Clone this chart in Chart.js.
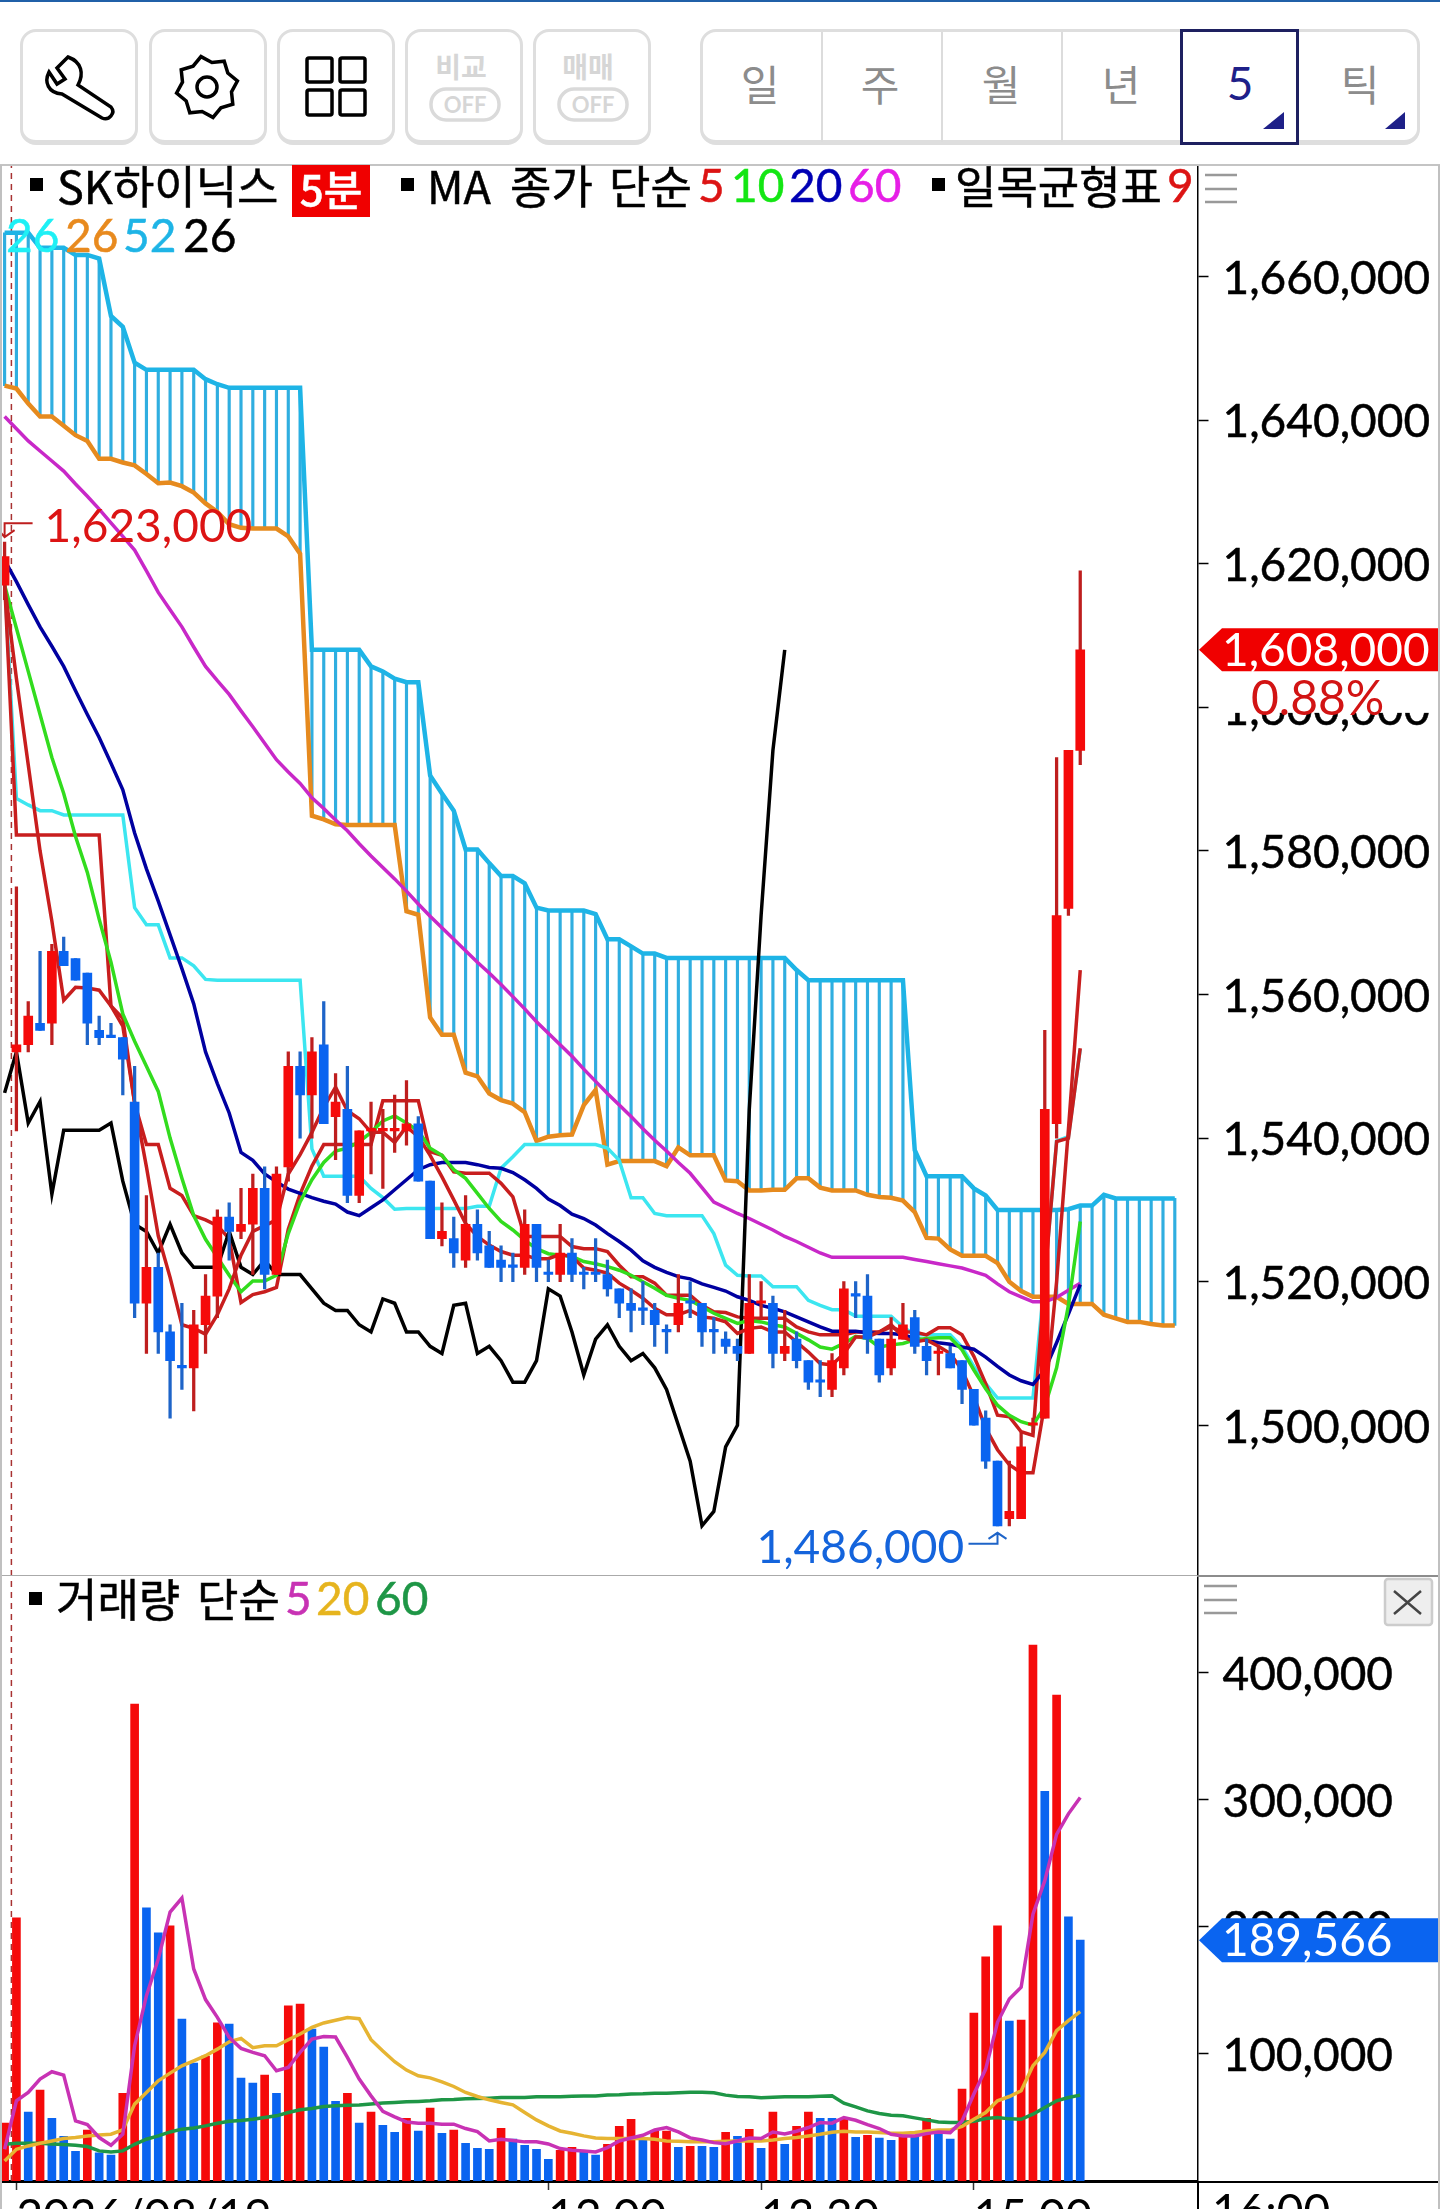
<!DOCTYPE html>
<html lang="ko"><head><meta charset="utf-8">
<style>
html,body{margin:0;padding:0;background:#fff;width:1440px;height:2209px;overflow:hidden}
#page{position:relative;width:1440px;height:2209px;overflow:hidden;background:#fff;font-family:"Noto Sans CJK KR","Noto Sans",sans-serif}
canvas{position:absolute;left:0}
.t{position:absolute;white-space:nowrap;line-height:50px;height:50px;font-size:45px;color:#000;-webkit-text-stroke:.5px currentColor}
.l{font-family:Lato,sans-serif;font-size:46px}
.sq{position:absolute;width:13px;height:13px;background:#000}
.box{position:absolute;box-sizing:border-box;border:3px solid #DEDEDE;border-bottom-width:5px;border-radius:16px;background:#fff}
.hl{position:absolute;height:2px}
.seg{position:absolute;top:53px;height:60px;line-height:60px;font-size:42px;color:#8C8C8C;transform:translateX(-50%)}
</style></head><body><div id="page">
<div class="hl" style="left:0;top:0;width:1440px;height:2px;background:#2060A8"></div>
<div class="box" style="left:20px;top:29px;width:118px;height:116px"></div>
<div class="box" style="left:149px;top:29px;width:118px;height:116px"></div>
<div class="box" style="left:277px;top:29px;width:118px;height:116px"></div>
<div class="box" style="left:405px;top:29px;width:118px;height:116px"></div>
<div class="box" style="left:533px;top:29px;width:118px;height:116px"></div>
<div class="box" style="left:700px;top:29px;width:720px;height:116px"></div>
<div style="position:absolute;left:821px;top:32px;width:2px;height:110px;background:#DCDCDC"></div>
<div style="position:absolute;left:941px;top:32px;width:2px;height:110px;background:#DCDCDC"></div>
<div style="position:absolute;left:1061px;top:32px;width:2px;height:110px;background:#DCDCDC"></div>
<div style="position:absolute;left:1180px;top:29px;width:119px;height:116px;box-sizing:border-box;border:3px solid #1E2060;background:#fff"></div>
<svg id="icons" width="1440" height="165" style="position:absolute;left:0;top:0" fill="none" stroke="#000" stroke-width="3.5">
<path d="M68 57 L57 68 L65 79 L57 84 L49 72 C44 82 48 93 62 94 L102 118 C109 121 116 113 111 107 L78 85 C84 74 82 62 68 57Z"/>
<polygon id="gear" points=""/><circle cx="207" cy="87" r="10"/>
<rect x="307" y="58" width="25" height="24" rx="2"/><rect x="340" y="58" width="25" height="24" rx="2"/>
<rect x="307" y="90" width="25" height="25" rx="2"/><rect x="340" y="90" width="25" height="25" rx="2"/>
<rect x="431" y="89" width="68" height="31" rx="15" stroke="#DADADA"/><rect x="559" y="89" width="68" height="31" rx="15" stroke="#DADADA"/>
<polygon points="1284,112 1284,129 1263,129" fill="#1E2088" stroke="none"/><polygon points="1405,112 1405,129 1385,129" fill="#1E2088" stroke="none"/>
</svg>
<div style="position:absolute;left:431px;top:48px;width:60px;text-align:center;font-size:28px;line-height:36px;color:#D6D6D6;font-weight:700">비교</div>
<div style="position:absolute;left:435px;top:90px;width:60px;text-align:center;font-size:22px;line-height:30px;color:#D6D6D6;font-family:Lato;font-weight:700">OFF</div>
<div style="position:absolute;left:558px;top:48px;width:60px;text-align:center;font-size:28px;line-height:36px;color:#D6D6D6;font-weight:700">매매</div>
<div style="position:absolute;left:563px;top:90px;width:60px;text-align:center;font-size:22px;line-height:30px;color:#D6D6D6;font-family:Lato;font-weight:700">OFF</div>
<div class="seg" style="left:760px">일</div><div class="seg" style="left:880px">주</div><div class="seg" style="left:1001px">월</div><div class="seg" style="left:1121px">년</div>
<div class="seg" style="left:1240px;color:#1E2088;font-family:Lato;font-size:46px">5</div><div class="seg" style="left:1360px">틱</div>

<canvas id="priceCanvas" width="1440" height="1411" style="top:165px"></canvas>
<canvas id="volumeCanvas" width="1440" height="680" style="top:1576px"></canvas>

<div class="hl" style="left:0;top:164px;width:1440px;background:#C4C4C4"></div>
<div class="hl" style="left:0;top:1575px;width:1197px;height:1px;background:#AAA"></div>
<div class="hl" style="left:1197px;top:1575px;width:243px;background:#8C8C8C"></div>
<div class="hl" style="left:0;top:2181px;width:1438px;height:1.5px;background:#000"></div>
<div style="position:absolute;left:1197px;top:2181px;width:1.5px;height:28px;background:#000"></div>
<div style="position:absolute;left:0;top:165px;width:2px;height:2044px;background:#C0C0C0"></div>
<div style="position:absolute;left:1438px;top:165px;width:2px;height:2044px;background:#C0C0C0"></div>

<div class="sq" style="left:30px;top:178px"></div>
<div class="t" style="left:57px;top:160px">SK하이닉스</div>
<div style="position:absolute;left:292px;top:165px;width:78px;height:52px;background:#F00000;color:#fff;font-size:42px;line-height:46px;text-align:center;font-weight:500;-webkit-text-stroke:.5px #fff">5분</div>
<div class="sq" style="left:401px;top:178px"></div>
<div class="t" style="left:427px;top:160px">MA</div><div class="t" style="left:510px;top:160px">종가</div><div class="t" style="left:609px;top:160px">단순</div>
<div class="t l" style="left:698px;top:160px;color:#DC1414">5</div><div class="t l" style="left:731px;top:160px;color:#14E614">10</div>
<div class="t l" style="left:789px;top:160px;color:#0000B4">20</div><div class="t l" style="left:848px;top:160px;color:#E61EE6">60</div>
<div class="sq" style="left:932px;top:178px"></div>
<div class="t" style="left:955px;top:160px">일목균형표</div><div class="t l" style="left:1167px;top:160px;color:#DC1414">9</div>
<div class="t l" style="left:6px;top:210px;color:#1EF0F5">26</div><div class="t l" style="left:65px;top:210px;color:#E88A1E">26</div>
<div class="t l" style="left:123px;top:210px;color:#1EB4E6">52</div><div class="t l" style="left:183px;top:210px;color:#000">26</div>
<svg width="1440" height="1640" style="position:absolute;left:0;top:0" stroke="#999" stroke-width="2.5">
<path d="M1205 175H1237M1205 189H1237M1205 202H1237"/><path d="M1204 1586H1237M1204 1600H1237M1204 1613H1237"/>
<rect x="1385" y="1579" width="47" height="46" rx="3" fill="#EEE" stroke="#CCC"/><path d="M1394 1591L1421 1614M1421 1591L1394 1614" stroke="#444"/>
</svg>
<div class="sq" style="left:29px;top:1592px"></div>
<div class="t" style="left:56px;top:1573px">거래량</div><div class="t" style="left:197px;top:1573px">단순</div>
<div class="t l" style="left:285px;top:1573px;color:#C832B4">5</div><div class="t l" style="left:316px;top:1573px;color:#E6B41E">20</div><div class="t l" style="left:375px;top:1573px;color:#1E9646">60</div>
<div style="position:absolute;left:1212px;top:2172px;font-family:Lato;font-size:46px;line-height:76px;height:76px;white-space:nowrap">16:00</div>
</div>
<script src="https://cdn.jsdelivr.net/npm/chart.js@4/dist/chart.umd.js"></script>
<script>
const priceTicks=[1500,1520,1540,1560,1580,1600,1620,1640,1660];
const volumeTicks=[100,200,300,400];
const dateTickAt=[1,46,64,82];
const dateTickLabels=["2026/08/19","12:00","13:30","15:00"];

const candleOpen=[1617,1552,1553,1556,1556,1566,1565,1563,1555,1554,1554,1545,1517,1522,1513,1508,1508,1514,1518,1529,1527,1528,1533,1521,1536,1550,1546,1553,1543,1544,1532,1541,1541,1541,1541,1542,1534,1526,1526,1523,1528,1525,1523,1522,1522,1528,1521,1521,1524,1521,1521,1521,1519,1517,1516,1516,1513,1514,1517,1517,1513,1512,1511,1510,1517,1517,1510,1512,1509,1506,1505,1508,1518,1518,1512,1508,1512,1515,1511,1510,1510,1509,1505,1501,1495,1487,1487,1500,1501,1542,1572,1594];
const candleClose=[1621,1553,1557,1555,1566,1564,1562,1556,1554,1554,1551,1517,1522,1513,1509,1508,1514,1518,1529,1527,1528,1533,1521,1535,1550,1546,1552,1542,1545,1532,1541,1541,1541,1541,1542,1534,1526,1527,1524,1528,1524,1522,1522,1522,1528,1522,1521,1524,1521,1521,1521,1519,1517,1516,1516,1514,1513,1517,1517,1513,1513,1511,1510,1517,1517,1510,1511,1509,1506,1506,1509,1519,1518,1512,1507,1512,1514,1511,1509,1510,1508,1505,1500,1495,1486,1488,1497,1500,1544,1571,1594,1608];
const candleHigh=[1623,1575,1559,1566,1567,1568,1565,1563,1557,1556,1554,1550,1532,1524,1514,1517,1516,1521,1530,1531,1533,1535,1536,1536,1552,1552,1554,1559,1549,1550,1541,1545,1544,1546,1548,1543,1534,1531,1529,1532,1530,1527,1525,1524,1530,1528,1523,1528,1526,1522,1526,1523,1519,1519,1520,1517,1514,1521,1520,1517,1515,1513,1512,1521,1520,1518,1516,1513,1509,1509,1510,1520,1520,1521,1512,1515,1517,1516,1512,1511,1511,1509,1505,1502,1495,1495,1499,1501,1555,1593,1594,1619];
const candleLow=[1615,1541,1552,1555,1553,1564,1562,1553,1553,1554,1546,1515,1510,1510,1501,1505,1502,1510,1515,1523,1526,1521,1519,1521,1534,1540,1540,1542,1537,1531,1531,1535,1533,1538,1539,1534,1526,1525,1522,1522,1523,1522,1520,1520,1521,1520,1520,1520,1520,1519,1520,1518,1515,1513,1514,1511,1510,1513,1515,1511,1510,1510,1509,1510,1515,1508,1509,1508,1505,1504,1504,1507,1515,1510,1506,1507,1512,1510,1507,1507,1508,1503,1500,1494,1486,1486,1487,1499,1501,1540,1571,1592];
const candleSide=["RRRBRBBBBB","BBRBBBRRRB","RRBRRBRBRB","RRRRRBBRBR","BBBBRBBRBB","BBBBBBBRBB","BBBRRBRBBB","RRBBBRRBBR","BBBBBRRRRR","RR"].join("");

const ma5=[1617,1604,1592,1580,1570.2,1559.2,1561,1560.9,1560.6,1558.4,1555.6,1544.9,1536,1526.4,1520.6,1514,1513.5,1512.7,1515.4,1519,1523.7,1527,1527.8,1528.6,1535,1537.7,1540.8,1544.3,1547.1,1543.8,1542.7,1540.8,1540.8,1539.4,1541.6,1540.2,1537.6,1534.6,1531.4,1528.1,1526.3,1525.1,1524.2,1523.7,1523.7,1523.2,1523.2,1523.8,1523.5,1521.9,1521.6,1521.2,1519.8,1518.8,1517.7,1516.3,1515.4,1515.4,1516,1515.1,1514.9,1514.4,1512.8,1513.5,1513.7,1513,1513,1511.6,1510.2,1508.6,1508.4,1510,1512.3,1512.3,1513,1514,1512.3,1511.6,1511.9,1511,1510,1507.7,1504,1499.6,1496.6,1494.5,1493.4,1493.4,1503,1520,1541.2,1563.4];
const ma10=[1617,1611,1605,1599,1593,1588,1582,1577,1570.5,1564.5,1557.3,1553.5,1550,1546.5,1540,1534.4,1529.2,1525.9,1523.4,1520.9,1518.6,1520.1,1520.1,1520.9,1526.7,1531.1,1534.2,1536.6,1538.2,1538.6,1539.5,1540.8,1542.4,1543.1,1542.1,1541,1538.6,1537.6,1535.6,1534.4,1532.3,1530.2,1528.4,1527.2,1525.8,1524.6,1523.9,1523.7,1523.5,1522.8,1522.5,1522.1,1521.6,1520.9,1520,1519.1,1518.1,1517.7,1517.4,1516.5,1515.6,1514.9,1514.2,1514.6,1514.4,1514,1513.7,1512.8,1511.9,1510.9,1510.6,1511.4,1512.4,1512.1,1510.9,1511.2,1511.4,1511.9,1512.1,1512.2,1512.2,1510.5,1507.7,1505.1,1502.8,1501.4,1500.5,1500,1502.6,1508,1516.7,1528.4];
const ma20=[1620.5,1617.5,1614.3,1611.2,1608.5,1605.7,1602.3,1599,1595.8,1592.2,1588.5,1582.5,1577.5,1573,1568.3,1563.6,1558.7,1552,1547.6,1543.5,1538,1536.9,1535,1533.9,1532.9,1532.3,1531.7,1531.2,1530.8,1529.7,1529.2,1530.3,1531.4,1532.8,1534.2,1535.6,1536.3,1536.6,1536.6,1536.6,1536.3,1535.9,1535.8,1535.2,1534.2,1533,1531.5,1530.6,1529.4,1528.8,1527.9,1526.7,1525.6,1524.4,1522.9,1522,1521.3,1520.7,1520.4,1519.7,1519.2,1518.7,1517.9,1517.4,1516.7,1516.3,1515.8,1515.1,1514.4,1513.7,1513.1,1513.1,1513.1,1512.9,1512.8,1512.8,1512.6,1512.1,1511.8,1511.5,1511.3,1510.9,1510.6,1509.5,1508.2,1507,1506.2,1505.7,1507.7,1511.5,1515.5,1519.6];
const ma60=[1640.5,1638.8,1637.1,1635.7,1634.3,1632.9,1631.1,1629.4,1627.6,1625.7,1623.8,1621.9,1619,1616,1613.6,1611.2,1608.4,1605.7,1603.7,1601.8,1599.5,1597.3,1595,1592.7,1591,1589.4,1587.4,1585.9,1584.3,1582.8,1581,1579.3,1577.7,1576.1,1574.4,1572.6,1570.9,1569.3,1567.7,1566.1,1564.5,1563,1561.4,1559.7,1558,1556.2,1554.6,1553,1551.4,1549.6,1547.9,1546.2,1544.6,1543,1541.3,1539.7,1538.2,1536.6,1535.1,1533.1,1531.1,1530.3,1529.5,1528.8,1528,1527.2,1526.3,1525.6,1524.8,1524,1523.4,1523.4,1523.4,1523.4,1523.4,1523.4,1523.4,1523.1,1522.8,1522.5,1522.2,1521.9,1521.4,1520.9,1519.7,1518.6,1517.9,1517.2,1517.2,1517.8,1518.8,1519.8];
const ichimokuConversion=[1617.5,1582.2,1582.2,1582.2,1582.2,1582.2,1582.2,1582.2,1582.2,1558.4,1556.7,1544.9,1539.1,1539.1,1533,1532,1529.2,1528.6,1527.8,1526,1517.1,1518.2,1518.6,1519.2,1527.3,1532.2,1536.1,1539.1,1539.1,1539.1,1539.1,1539.1,1545.2,1545.2,1545.2,1545.2,1538.1,1537.6,1535.3,1535.1,1535.1,1535.1,1533.7,1531.8,1526.3,1526.3,1526.3,1526.3,1524.9,1524.6,1524.6,1524.2,1522.3,1520.7,1520.7,1519.8,1518.1,1518.1,1518.1,1516.7,1515.8,1515.7,1515.1,1514.9,1514.9,1514.9,1514.9,1513.7,1513,1512.6,1512.6,1512.6,1513,1513,1513,1513.7,1513,1513,1512.6,1513.6,1513.6,1512.6,1509.6,1505.8,1501.4,1501.2,1499.1,1498.6,1520.5,1539.5,1540,1552.5];
const ichimokuBase=[1617.5,1587.3,1586.4,1585.6,1585.6,1585,1585,1585,1585,1585,1585,1572.1,1569.7,1569.7,1565.1,1565.1,1564,1562.1,1562,1562,1562,1562,1562,1562,1562,1562,1538.5,1534.7,1534.7,1534.7,1534.7,1533,1531.7,1530.1,1530.2,1530.2,1530.2,1530.2,1530.2,1530.2,1530.5,1530.5,1535.8,1537.4,1539.1,1539.1,1539.1,1539.1,1539.1,1539.1,1539.1,1538.6,1536.9,1531.7,1531.7,1529.5,1529.2,1529.2,1529.2,1529.2,1526.7,1522.3,1520.9,1520.8,1520.8,1519.3,1519.3,1519.3,1517.4,1516.7,1516.1,1516.1,1515.2,1515.2,1515.2,1515.2,1513.7,1512.6,1512.6,1512.6,1512.6,1510.9,1508.2,1505.8,1503.8,1503.8,1503.8,1503.8,1520.5,1539.6,1540.2,1552.4];
const ichimokuLagging=[1546.3,1552,1542.1,1545.1,1532.2,1541.1,1541.1,1541.1,1541.1,1542.1,1534,1528,1527,1524,1528,1524,1522,1522,1522,1527,1522,1521,1523,1521,1521,1521,1519,1517,1516,1516,1514,1513,1517.6,1517,1513,1513,1511,1510,1516.7,1517,1510,1511,1509,1506,1506,1509,1519,1518,1513,1507,1512,1514,1511,1509,1510,1508,1505,1500,1495,1486,1488,1497,1500,1544,1571,1594,1608];
const ichimokuSpanUpper=[1666.1,1666.1,1666.1,1664,1664,1664,1663,1663,1662.5,1654.5,1653,1648,1647,1647,1647,1647,1647,1645.7,1645,1644.5,1644.5,1644.5,1644.5,1644.5,1644.5,1644.5,1608,1608,1608,1608,1608,1605.7,1605,1604,1603.5,1603.5,1590.5,1588,1585.6,1580.2,1580.2,1578.3,1576.5,1576.5,1575.5,1572.1,1571.7,1571.7,1571.7,1571.7,1571.2,1567.7,1567.7,1566.7,1565.7,1565.7,1565.1,1565.1,1565.1,1565.1,1565.1,1565.1,1565.1,1565.1,1565.1,1565.1,1565.1,1563.4,1562,1562,1562,1562,1562,1562,1562,1562,1562,1538.3,1534.7,1534.7,1534.7,1534.7,1533,1532,1530,1530,1530,1530,1530,1530,1530.1,1530.6,1530.6,1532.1,1531.6,1531.6,1531.6,1531.6,1531.6,1531.6];
const ichimokuSpanLower=[1644.8,1644.4,1642.3,1640.5,1640.5,1639.2,1637.9,1637.1,1634.6,1634.6,1634.1,1633.7,1632.5,1631.2,1631.3,1630.8,1629.9,1628.4,1627.2,1625.5,1625,1624.9,1624.9,1624.9,1623.8,1621.4,1584.9,1584.4,1583.7,1583.6,1583.6,1583.6,1583.6,1583.6,1571.6,1571.1,1556.8,1554.4,1554.4,1549.1,1548.6,1546.2,1545.3,1544.8,1543.6,1539.6,1540.2,1540.4,1540.5,1544.6,1546.7,1536.3,1536.8,1536.8,1536.8,1536.8,1536.1,1538.7,1537.6,1537.6,1537.6,1534.1,1534,1532.7,1532.7,1532.8,1532.8,1534.4,1534.4,1533.1,1532.7,1532.7,1532.7,1532.1,1531.8,1531.7,1531.3,1529.7,1526.1,1526,1524.5,1523.6,1523.6,1523.6,1522.6,1520,1518.7,1517.9,1517.9,1517.9,1516.9,1516.9,1516.9,1515.4,1514.9,1514.4,1514.4,1514.1,1513.9,1513.9];

const volume=[45.5,207.2,54.2,71.5,49.4,35.2,23.4,40,22.1,20.5,69.1,375.4,215,195.3,200.9,127.5,92.8,98.3,124.4,123.6,81,77,83.3,69.1,137.8,139.3,119.6,105.4,62.8,69.1,45.5,54.2,43.9,38.4,49.4,39.2,57.3,37.6,40,29.7,25.8,25,41.5,32.9,28.1,25,17.1,24.2,26.6,22.9,20.5,28.9,43.1,48.6,34.4,39.2,39.2,26.6,27.3,27.3,26.6,38.4,35.2,40.7,25.8,54.2,28.9,43.1,54.2,49.4,49.4,49.4,34.4,36,33.7,32.1,36,35.2,49.4,38.4,32.9,72.3,132.2,176.4,200.9,125.9,126.7,421.9,306.8,382.5,208,189.566];
const volumeSide=["RRBRBBBRBB","RRBBRBBRRB","BBRBRRBBBR","BRBBRBRBRB","BBRBBBBRRB","BRRRBRRBRB","BRBRBRBRRB","BRBRBBRBRB","BRRRRBRRBR","BB"].join("");
const volumeMa5=[25,63.1,69.7,80.2,86,83.3,47.3,44.4,34.2,28.1,36.8,106.5,145.9,174.8,211.6,222.7,166.9,142.8,128.8,113,104.4,101.2,98.6,86.8,89.4,101.2,111.7,113.8,113.3,97.3,80.2,67,54.9,50.5,46.5,45.5,45.5,44.7,44.7,41.3,38.9,31.5,32.9,31.8,30.8,30.8,29.2,25.5,24.2,23.7,22.9,26.3,31.5,33.9,36,40.2,42.1,38.6,33.9,32.3,30.2,29.4,31.5,33.9,33.4,38.6,37.1,39.2,42.1,46,45.5,50,47.8,44.4,41.3,36.8,35.5,35.5,37.3,38.6,38.1,47.3,68.4,88.1,124.9,143.3,152.5,210,236.4,272.8,289,301.8];
const volumeMa20=[15.8,25,27.6,29.7,31.5,33.4,34.2,35.5,36.3,36.8,40.2,60.5,69.7,78.9,84.9,90.7,94.6,98.6,103.8,109.6,112.3,104.9,106.5,106.5,111.2,115.7,120.9,124.4,126.5,128.6,127.8,111.2,102.3,93.9,87.3,82.8,81.2,78.1,74.4,69.7,66.5,63.9,61.8,59.9,53.9,48.1,43.4,39.4,37.6,35.5,33.9,33.4,33.4,33.4,33.4,32.9,31.5,31.3,30.8,30.8,30.8,31.3,31.5,31.5,31.5,32.3,33.4,34.2,35.5,36.8,38.4,39.2,38.6,38.6,38.1,37.6,37.6,38.1,39.4,40.2,40.2,42.9,48.6,53.9,63.1,66.5,71,90.7,101.2,118.3,126.2,133.3];
const volumeMa60=[28.9,29.7,29.7,29.7,29.2,28.7,28.1,27.1,23.7,22.9,23.7,28.9,32.9,35.5,38.6,40.8,41.8,43.4,45.5,47.1,47.6,48.6,50,51.3,53.9,56,57,58.6,59.2,59.7,59.9,60.7,61.3,61.8,62.3,62.6,63.1,63.9,64.1,64.7,64.9,65.2,65.7,65.7,65.7,66.3,66.3,66.3,66.8,67,67,67.6,67.8,68.4,68.6,69.1,69.1,69.4,69.9,69.9,69.4,67.6,66.5,66.3,65.5,66,66.3,66.3,66.3,66.8,67,61.3,58.4,55.2,53.1,51.8,51.3,49.7,48.1,46.5,46,46,47.1,49.2,50,48.9,48.6,52.6,57.8,63.1,65.7,67.6];

const dayBreakAt=0.575;
const highAt=0, highValue=1623, lowAt=84, lowValue=1486, lastPrice=1608, lastChange="0.88%", lastVolume=189.566;

const RED="#F50A0A",BLUE="#0A64F0",RW="#BE1E1E",BW="#1E64C8";
const XMIN=-0.389,XMAX=100.92,AXISW=242.5;
const pts=a=>a.map((y,x)=>({x,y}));
const fmt=v=>(v*1000).toLocaleString("en-US");
Chart.defaults.font.family="Lato";
Chart.defaults.color="#000";
const line=(data,color,order,width=3.5)=>({type:"line",data:pts(data),borderColor:color,borderWidth:width,pointRadius:0,tension:0,order,borderJoinStyle:"miter",borderCapStyle:"butt"});
const band=(lo,hi,colors,thick,order,minLen)=>({type:"bar",data:lo.map((v,i)=>({x:i,y:[v,hi[i]]})),backgroundColor:colors,barThickness:thick,grouped:false,order,minBarLength:minLen||0,borderWidth:0});
const dash=(a,b,order)=>({type:"line",data:[{x:dayBreakAt,y:a},{x:dayBreakAt,y:b}],borderColor:"#A83232",borderWidth:1.5,borderDash:[6,5],pointRadius:0,order});
const yAxis=(min,max,ticks)=>({position:"right",min,max,
  grid:{drawOnChartArea:false,tickLength:11,tickColor:"#000",tickWidth:1.5},
  border:{color:"#000",width:1.5},
  ticks:{padding:14,autoSkip:false,font:{size:46},color:"#000",callback:fmt,maxRotation:0,labelOffset:2.5,textStrokeWidth:.5,textStrokeColor:"#000"},
  afterBuildTicks(s){s.ticks=ticks.map(value=>({value}));},
  afterFit(s){s.width=AXISW;s.paddingTop=0;s.paddingBottom=0;}});

function tag(ctx,y,h,color,label){
  ctx.save();ctx.fillStyle=color;ctx.beginPath();
  ctx.moveTo(1199,y);ctx.lineTo(1222,y-h/2);ctx.lineTo(1438,y-h/2);ctx.lineTo(1438,y+h/2);ctx.lineTo(1222,y+h/2);ctx.closePath();ctx.fill();
  ctx.fillStyle="#fff";ctx.font="46px Lato";ctx.textAlign="left";ctx.textBaseline="middle";ctx.fillText(label,1222,y+1);ctx.restore();
}
const priceMarks={id:"priceMarks",afterDraw(c){
  const {ctx,scales:{x,y}}=c;
  const hx=x.getPixelForValue(highAt),hy=y.getPixelForValue(highValue);
  ctx.save();ctx.lineWidth=2;ctx.strokeStyle=RW;ctx.beginPath();
  ctx.moveTo(hx+28,hy-19);ctx.lineTo(hx,hy-19);ctx.lineTo(hx,hy-5);ctx.moveTo(hx-5,hy-11);ctx.lineTo(hx,hy-5);ctx.lineTo(hx+10,hy-12);ctx.stroke();
  ctx.fillStyle="#DC1414";ctx.font="46px Lato";ctx.textBaseline="middle";ctx.textAlign="left";ctx.fillText(fmt(highValue),hx+40,hy-15);
  const lx=x.getPixelForValue(lowAt),ly=y.getPixelForValue(lowValue);
  ctx.strokeStyle="#1E64C8";ctx.beginPath();
  ctx.moveTo(lx-29,ly+18);ctx.lineTo(lx,ly+18);ctx.lineTo(lx,ly+7);ctx.moveTo(lx-9,ly+13);ctx.lineTo(lx,ly+7);ctx.lineTo(lx+9,ly+13);ctx.stroke();
  ctx.fillStyle="#1464DC";ctx.fillText(fmt(lowValue),lx-241,ly+22);
  const py=y.getPixelForValue(lastPrice);
  ctx.fillStyle="#fff";ctx.fillRect(1212,py+20,226,43);
  tag(ctx,py,43,"#F00000",fmt(lastPrice));
  ctx.fillStyle="#D21414";ctx.font="48px Lato";ctx.textBaseline="middle";ctx.fillText(lastChange,1251,py+50);
  ctx.restore();
}};
const volumeMarks={id:"volumeMarks",afterDraw(c){
  tag(c.ctx,c.scales.y.getPixelForValue(lastVolume)+0,44,"#0A64F0",(lastVolume*1000).toLocaleString("en-US"));
}};

const common={responsive:false,animation:false,events:[],layout:{padding:0},plugins:{legend:{display:false},tooltip:{enabled:false}}};
new Chart(document.getElementById("priceCanvas"),{type:"bar",
 data:{datasets:[
  dash(1479,1676,20),
  band(ichimokuSpanLower,ichimokuSpanUpper,"#2FAEE0",2.5,19),
  line(ichimokuSpanUpper,"#1EB4E6",18,4.5),
  line(ichimokuSpanLower,"#E68A1E",17,4.5),
  line(ichimokuBase,"#3CE6F0",16),
  line(ichimokuConversion,"#C81E1E",15),
  line(ma60,"#C828C8",14),
  line(ichimokuLagging,"#000",13),
  line(ma20,"#0000A0",12),
  line(ma10,"#32DC1E",11),
  line(ma5,"#C81E1E",10),
  band(candleLow,candleHigh,[...candleSide].map(s=>s==="R"?RW:BW),2.6,2),
  band(candleOpen,candleClose,[...candleSide].map(s=>s==="R"?RED:BLUE),9,1,2.5)
 ]},
 options:{...common,
  scales:{x:{type:"linear",display:false,min:XMIN,max:XMAX,offset:false,grid:{offset:false}},
          y:yAxis(1479.01,1675.53,priceTicks)}},
 plugins:[priceMarks]});

new Chart(document.getElementById("volumeCanvas"),{type:"bar",
 data:{datasets:[
  dash(0,477,20),
  band(volume.map(()=>0),volume,[...volumeSide].map(s=>s==="R"?RED:BLUE),8,10),
  line(volumeMa60,"#1E9646",3),
  line(volumeMa20,"#E6B432",2),
  line(volumeMa5,"#C832B4",1)
 ]},
 options:{...common,
  scales:{
   x:{type:"linear",position:"bottom",min:XMIN,max:XMAX,offset:false,
      grid:{offset:false,drawOnChartArea:false,tickLength:9,tickColor:"#333",tickWidth:1.5},
      border:{color:"#000",width:1.5},
      ticks:{autoSkip:false,maxRotation:0,align:"start",padding:0,font:{size:46},color:"#000",
             callback:v=>dateTickLabels[dateTickAt.indexOf(v)]||""},
      afterBuildTicks(s){s.ticks=dateTickAt.map(value=>({value}));},
      afterFit(s){s.height=75;s.paddingLeft=0;s.paddingRight=0;}},
   y:yAxis(0,476.2,volumeTicks)}},
 plugins:[volumeMarks]});

const g=[];for(let i=0;i<16;i++){const a=i*Math.PI/8+Math.PI/16,r=i%2?31:25;g.push((207+r*Math.cos(a)).toFixed(1)+","+(87+r*Math.sin(a)).toFixed(1));}
document.getElementById("gear").setAttribute("points",g.join(" "));
</script></body></html>
